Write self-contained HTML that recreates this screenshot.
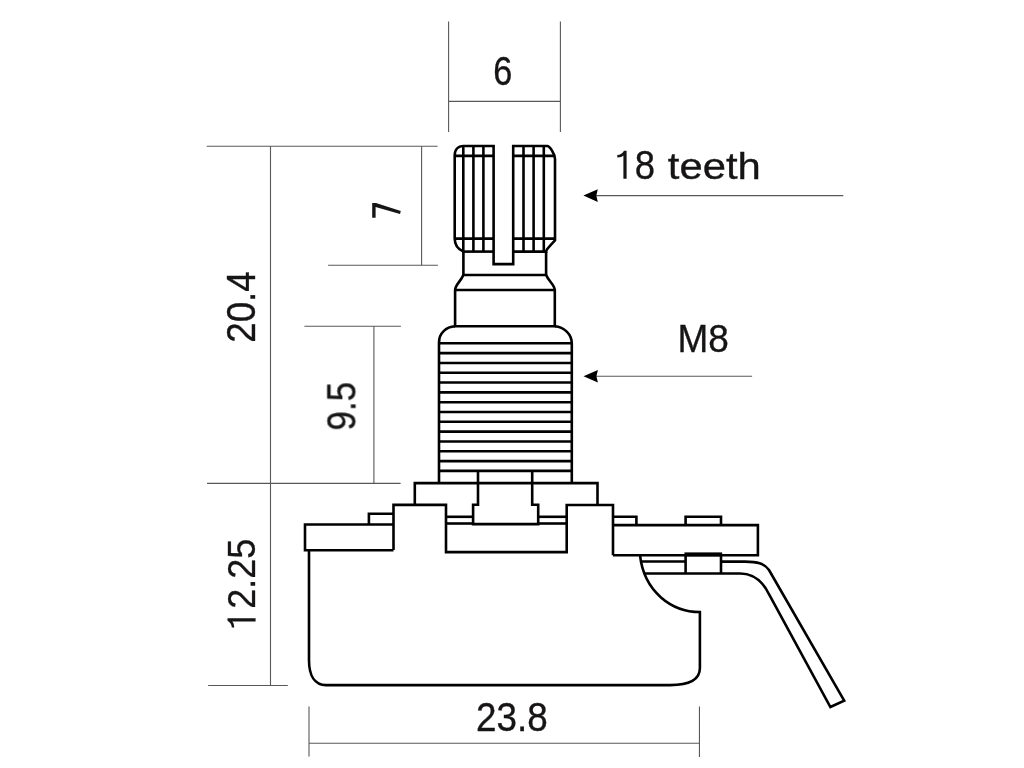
<!DOCTYPE html>
<html><head><meta charset="utf-8"><title>Potentiometer dimensions</title>
<style>html,body{margin:0;padding:0;background:#fff;width:1024px;height:768px;overflow:hidden}svg{display:block}</style>
</head><body>
<svg width="1024" height="768" viewBox="0 0 1024 768">
<rect width="1024" height="768" fill="#fff"/>
<g fill="none">
<line x1="448.6" y1="21.5" x2="448.6" y2="131.9" stroke="#585858" stroke-width="1.1"/>
<line x1="560.4" y1="21.5" x2="560.4" y2="131.9" stroke="#585858" stroke-width="1.1"/>
<line x1="448.6" y1="101.4" x2="560.4" y2="101.4" stroke="#585858" stroke-width="1.1"/>
<line x1="206.7" y1="146.2" x2="437.6" y2="146.2" stroke="#585858" stroke-width="1.1"/>
<line x1="270.5" y1="146.2" x2="270.5" y2="685.5" stroke="#585858" stroke-width="1.1"/>
<line x1="328.1" y1="265.3" x2="437.9" y2="265.3" stroke="#585858" stroke-width="1.1"/>
<line x1="421.6" y1="146.2" x2="421.6" y2="265.3" stroke="#585858" stroke-width="1.1"/>
<line x1="304.4" y1="326.25" x2="400.9" y2="326.25" stroke="#585858" stroke-width="1.1"/>
<line x1="373.9" y1="326.25" x2="373.9" y2="483.4" stroke="#585858" stroke-width="1.1"/>
<line x1="207.1" y1="483.4" x2="400.6" y2="483.4" stroke="#585858" stroke-width="1.1"/>
<line x1="208.1" y1="685.5" x2="287.8" y2="685.5" stroke="#585858" stroke-width="1.1"/>
<line x1="309" y1="706.5" x2="309" y2="756.6" stroke="#585858" stroke-width="1.1"/>
<line x1="699.45" y1="706.4" x2="699.45" y2="757" stroke="#585858" stroke-width="1.1"/>
<line x1="309" y1="743.2" x2="699.45" y2="743.2" stroke="#585858" stroke-width="1.1"/>
<line x1="596" y1="195.6" x2="843.3" y2="195.6" stroke="#585858" stroke-width="1.1"/>
<line x1="596" y1="376.3" x2="752.1" y2="376.3" stroke="#585858" stroke-width="1.1"/>
</g>
<path d="M583.4,195.6 L597.8,189.29999999999998 L596.3,195.6 L597.8,201.9 Z" fill="#000"/>
<path d="M583.5,376.3 L597.9,370.0 L596.4,376.3 L597.9,382.6 Z" fill="#000"/>
<g fill="none" stroke="#000" stroke-width="2.6" stroke-linejoin="miter" stroke-linecap="butt">
<path d="M463.4,251.6 C457,249 454.7,244 454.7,238.6 V155.6 C454.7,149.5 458,146.0 463.5,146.0 H493.6 V264.1 H513.2 V146.0 H547 Q549.5,146.0 552.3,151.2 Q555,155.5 555,159 V240.3 L548.6,247.3 Q546.1,249.8 546.1,251.6 H513.2"/>
<line x1="463.4" y1="251.6" x2="493.6" y2="251.6"/>
<path d="M463.4,251.6 V275 H546.1 V251.6"/>
<line x1="463.3" y1="146.0" x2="463.3" y2="251.6"/>
<line x1="473.4" y1="146.0" x2="473.4" y2="251.6"/>
<line x1="483.4" y1="146.0" x2="483.4" y2="251.6"/>
<line x1="523.5" y1="146.0" x2="523.5" y2="251.6"/>
<line x1="533.6" y1="146.0" x2="533.6" y2="251.6"/>
<line x1="543.8" y1="146.0" x2="543.8" y2="251.6"/>
<line x1="454.7" y1="155.9" x2="493.6" y2="155.9"/>
<line x1="513.2" y1="155.9" x2="555" y2="155.9"/>
<line x1="454.7" y1="238.6" x2="493.6" y2="238.6"/>
<line x1="513.2" y1="238.6" x2="555" y2="238.6"/>
<path d="M463.4,275 C461,281 455.1,285 455.1,290 V326.3 H554.8 V290 C554.8,285 548.5,281 546.1,275"/>
<line x1="455.1" y1="290" x2="554.8" y2="290"/>
<path d="M439,482.9 V342.5 C439,333 446,327 455.1,326.3"/>
<path d="M571.8,482.9 V343.4 C571.8,334 564,327 554.8,326.3"/>
<line x1="439" y1="343.3" x2="571.8" y2="343.3"/>
<line x1="439" y1="353.12" x2="571.8" y2="353.12"/>
<line x1="439" y1="362.93" x2="571.8" y2="362.93"/>
<line x1="439" y1="372.75" x2="571.8" y2="372.75"/>
<line x1="439" y1="382.56" x2="571.8" y2="382.56"/>
<line x1="439" y1="392.38" x2="571.8" y2="392.38"/>
<line x1="439" y1="402.19" x2="571.8" y2="402.19"/>
<line x1="439" y1="412.0" x2="571.8" y2="412.0"/>
<line x1="439" y1="421.82" x2="571.8" y2="421.82"/>
<line x1="439" y1="431.63" x2="571.8" y2="431.63"/>
<line x1="439" y1="441.45" x2="571.8" y2="441.45"/>
<line x1="439" y1="451.26" x2="571.8" y2="451.26"/>
<line x1="439" y1="461.08" x2="571.8" y2="461.08"/>
<line x1="439" y1="470.89" x2="571.8" y2="470.89"/>
<path d="M414.8,504.9 V483.1 H597.5 V505"/>
<path d="M478,470.8 V504.8 H473.1 V524.1 H538.2 V504.8 H532.2 V470.8"/>
<path d="M393.5,550 V504.9 H446 V552.1 H566.7 V505 H613 V555.2"/>
<line x1="446" y1="516.8" x2="473.1" y2="516.8"/>
<line x1="446" y1="523.5" x2="473.1" y2="523.5"/>
<line x1="538.2" y1="516.8" x2="566.7" y2="516.8"/>
<line x1="538.2" y1="523.5" x2="566.7" y2="523.5"/>
<path d="M393.5,550.2 H305.0 V524.5 H393.5"/>
<path d="M368.9,524.5 V513.7 H393.5"/>
<path d="M613,525.1 H757.9 V555.2 H613"/>
<path d="M613,516.8 H636.4 V525.1"/>
<path d="M685.6,525.1 V516.8 H721 V525.1"/>
<line x1="685.6" y1="554" x2="685.6" y2="573.5"/>
<line x1="721" y1="554" x2="721" y2="573.5"/>
<rect x="684.45" y="552.4" width="37.7" height="4.0" fill="#000" stroke="none"/>
<path d="M641,561.5 H685.6 M721,561.6 H745 C757,561.8 764,563 769,570 L844.2,700.6 L830.4,707 L768.7,593.7 C762,580 753,573.5 740,573.5 H644.6"/>
<path d="M309,550.2 V660 C309,676 315,685.1 326,685.1 H670 C690,685.1 699.9,680 699.9,668 V612 C672,612 644,592 640,555.2"/>
</g>
<g font-family="Liberation Sans, sans-serif" fill="#161414" stroke="#161414" stroke-width="0.35" style="will-change:transform">
<text transform="translate(493.35,84.58) scale(0.8558,1.0302)" font-size="40">6</text>
<text transform="translate(475.95,730.65) scale(0.9216,1.0255)" font-size="40">23.8</text>
<text transform="translate(634.74,178.72) scale(0.9123,1.0060)" font-size="40">8</text>
<text transform="translate(667.84,178.70) scale(1.0461,0.9418)" font-size="40">teeth</text>
<text transform="translate(677.45,352.50) scale(0.9241,0.9863)" font-size="40">M8</text>
<text transform="translate(254.50,342.75) rotate(-90) scale(0.9188,1.0089)" font-size="40">20.4</text>
<text transform="translate(254.60,608.76) rotate(-90) scale(0.8980,0.9799)" font-size="40">2.25</text>
<text transform="translate(355.58,430.41) rotate(-90) scale(0.8724,1.0323)" font-size="40">9.5</text>
<path d="M372.2,202.9 H375.9 L400.8,211.1 L400.0,213.9 L375.6,207.1 V217.8 H372.2 Z" stroke="none"/>
<path transform="translate(626.6,178.8)" d="M0,-28.1 V0 H-3.2 V-23.4 C-4.4,-22.1 -5.9,-21.5 -9.3,-21.4 V-23.8 C-6.3,-23.9 -3.9,-25.6 -2.6,-28.1 Z" stroke="none"/>
<path transform="translate(255.6,618.2) rotate(-90)" d="M0,-28.1 V0 H-3.2 V-23.4 C-4.4,-22.1 -5.9,-21.5 -9.3,-21.4 V-23.8 C-6.3,-23.9 -3.9,-25.6 -2.6,-28.1 Z" stroke="none"/>
</g>
</svg>
</body></html>
